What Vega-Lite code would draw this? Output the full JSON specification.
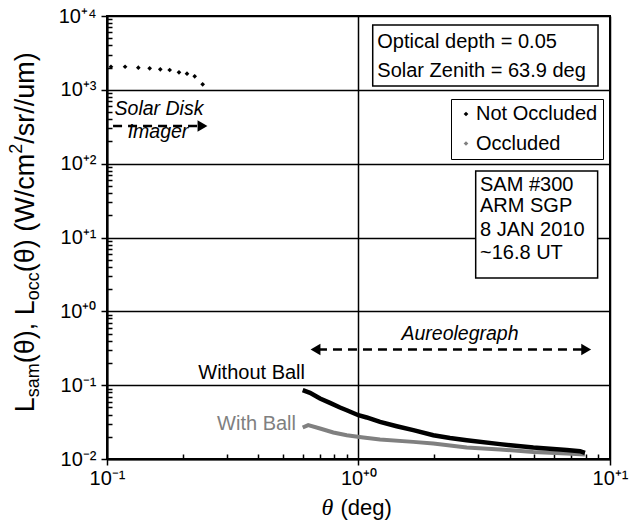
{
  "$schema": "https://vega.github.io/schema/vega-lite/v6.json",
  "width": 503,
  "height": 443,
  "autosize": {"type": "none"},
  "padding": {"left": 107, "top": 16, "right": 23, "bottom": 64},
  "background": "white",
  "config": {
    "font": "Liberation Sans",
    "view": {"stroke": "black", "strokeWidth": 2},
    "text": {"font": "Liberation Sans", "color": "black"}
  },
  "datasets": {
    "disk": [
      {"theta": 0.1037, "L": 2055, "series": "Not Occluded"},
      {"theta": 0.118, "L": 2055, "series": "Not Occluded"},
      {"theta": 0.1332, "L": 1993, "series": "Not Occluded"},
      {"theta": 0.1478, "L": 1955, "series": "Not Occluded"},
      {"theta": 0.1629, "L": 1896, "series": "Not Occluded"},
      {"theta": 0.1775, "L": 1855, "series": "Not Occluded"},
      {"theta": 0.1933, "L": 1727, "series": "Not Occluded"},
      {"theta": 0.208, "L": 1653, "series": "Not Occluded"},
      {"theta": 0.2232, "L": 1524, "series": "Not Occluded"},
      {"theta": 0.2401, "L": 1187, "series": "Not Occluded"}
    ],
    "aureole": [
      {"theta": 0.6, "L": 0.0855, "series": "Not Occluded"},
      {"theta": 0.6415, "L": 0.0787, "series": "Not Occluded"},
      {"theta": 0.703, "L": 0.066, "series": "Not Occluded"},
      {"theta": 0.77, "L": 0.0576, "series": "Not Occluded"},
      {"theta": 0.8441, "L": 0.0498, "series": "Not Occluded"},
      {"theta": 0.898, "L": 0.0458, "series": "Not Occluded"},
      {"theta": 0.999, "L": 0.0392, "series": "Not Occluded"},
      {"theta": 1.078, "L": 0.0365, "series": "Not Occluded"},
      {"theta": 1.218, "L": 0.0318, "series": "Not Occluded"},
      {"theta": 1.419, "L": 0.0278, "series": "Not Occluded"},
      {"theta": 1.652, "L": 0.0246, "series": "Not Occluded"},
      {"theta": 1.984, "L": 0.021, "series": "Not Occluded"},
      {"theta": 2.311, "L": 0.0193, "series": "Not Occluded"},
      {"theta": 2.693, "L": 0.018, "series": "Not Occluded"},
      {"theta": 3.653, "L": 0.0159, "series": "Not Occluded"},
      {"theta": 4.955, "L": 0.0143, "series": "Not Occluded"},
      {"theta": 6.727, "L": 0.0132, "series": "Not Occluded"},
      {"theta": 7.599, "L": 0.01276, "series": "Not Occluded"},
      {"theta": 7.95, "L": 0.0121, "series": "Not Occluded"},
      {"theta": 0.6, "L": 0.0267, "series": "Occluded"},
      {"theta": 0.631, "L": 0.0287, "series": "Occluded"},
      {"theta": 0.703, "L": 0.0259, "series": "Occluded"},
      {"theta": 0.794, "L": 0.02286, "series": "Occluded"},
      {"theta": 0.898, "L": 0.021, "series": "Occluded"},
      {"theta": 1.045, "L": 0.01956, "series": "Occluded"},
      {"theta": 1.218, "L": 0.0184, "series": "Occluded"},
      {"theta": 1.652, "L": 0.01706, "series": "Occluded"},
      {"theta": 1.984, "L": 0.01622, "series": "Occluded"},
      {"theta": 2.693, "L": 0.0143, "series": "Occluded"},
      {"theta": 3.653, "L": 0.01345, "series": "Occluded"},
      {"theta": 4.955, "L": 0.01247, "series": "Occluded"},
      {"theta": 6.727, "L": 0.01188, "series": "Occluded"},
      {"theta": 7.95, "L": 0.01151, "series": "Occluded"}
    ],
    "boxes": [
      {"theta": 1.139, "theta2": 8.961, "L": 7551, "L2": 1126},
      {"theta": 2.924, "theta2": 8.93, "L": 79.4, "L2": 2.818}
    ],
    "notes": [
      {"theta": 1.188, "L": 3684, "text": "Optical depth = 0.05"},
      {"theta": 1.188, "L": 1505, "text": "Solar Zenith = 63.9 deg"},
      {"theta": 3.042, "L": 42.94, "text": "SAM #300"},
      {"theta": 3.042, "L": 21.89, "text": "ARM SGP"},
      {"theta": 3.042, "L": 10.45, "text": "8 JAN 2010"},
      {"theta": 3.042, "L": 5.05, "text": "~16.8 UT"}
    ],
    "instruments": [
      {"theta": 0.1609, "L": 455.5, "text": "Solar Disk"},
      {"theta": 0.1595, "L": 222.3, "text": "Imager"},
      {"theta": 2.533, "L": 0.4073, "text": "Aureolegraph"}
    ],
    "ranges": [
      {"theta": 0.1057, "theta2": 0.2344, "L": 323},
      {"theta": 0.69, "theta2": 7.74, "L": 0.3046}
    ],
    "headsRight": [
      {"theta": 0.2397, "L": 323},
      {"theta": 8.04, "L": 0.3046}
    ],
    "headsLeft": [
      {"theta": 0.6745, "L": 0.3046}
    ],
    "xTitleAnchor": [{"theta": 1, "L": 0.01}],
    "yTitleAnchor": [{"theta": 0.1, "L": 0.043}]
  },
  "encoding": {
    "x": {
      "field": "theta",
      "type": "quantitative",
      "scale": {"type": "log", "domain": [0.1, 10], "nice": false},
      "axis": {
        "title": null,
        "values": [0.1, 0.2, 0.3, 0.4, 0.5, 0.6, 0.7, 0.8, 0.9, 1, 2, 3, 4, 5, 6, 7, 8, 9, 10],
        "labelExpr": "abs(log(datum.value)/LN10 - round(log(datum.value)/LN10)) > 0.001 ? '' : '10' + (datum.value >= 1 ? '⁺' : '⁻') + ['⁰','¹','²','³','⁴'][abs(round(log(datum.value)/LN10))]",
        "grid": true,
        "gridColor": "black",
        "gridWidth": 1.5,
        "gridOpacity": {"condition": {"test": "abs(log(datum.value)/LN10 - round(log(datum.value)/LN10)) < 0.001", "value": 1}, "value": 0},
        "tickColor": "black",
        "tickWidth": 1.5,
        "tickSize": {"condition": {"test": "abs(log(datum.value)/LN10 - round(log(datum.value)/LN10)) < 0.001", "value": 6}, "value": -5},
        "domainColor": "black",
        "domainWidth": 2,
        "labelFont": "Liberation Sans",
        "labelFontSize": 20,
        "labelColor": "black",
        "labelPadding": 3,
        "labelFlush": false,
        "labelOverlap": false
      }
    },
    "y": {
      "field": "L",
      "type": "quantitative",
      "scale": {"type": "log", "domain": [0.01, 10000], "nice": false},
      "axis": {
        "title": null,
        "values": [0.01, 0.02, 0.03, 0.04, 0.05, 0.06, 0.07, 0.08, 0.09, 0.1, 0.2, 0.3, 0.4, 0.5, 0.6, 0.7, 0.8, 0.9, 1, 2, 3, 4, 5, 6, 7, 8, 9, 10, 20, 30, 40, 50, 60, 70, 80, 90, 100, 200, 300, 400, 500, 600, 700, 800, 900, 1000, 2000, 3000, 4000, 5000, 6000, 7000, 8000, 9000, 10000],
        "labelExpr": "abs(log(datum.value)/LN10 - round(log(datum.value)/LN10)) > 0.001 ? '' : '10' + (datum.value >= 1 ? '⁺' : '⁻') + ['⁰','¹','²','³','⁴'][abs(round(log(datum.value)/LN10))]",
        "grid": true,
        "gridColor": "black",
        "gridWidth": 1.5,
        "gridOpacity": {"condition": {"test": "abs(log(datum.value)/LN10 - round(log(datum.value)/LN10)) < 0.001", "value": 1}, "value": 0},
        "tickColor": "black",
        "tickWidth": 1.5,
        "tickSize": {"condition": {"test": "abs(log(datum.value)/LN10 - round(log(datum.value)/LN10)) < 0.001", "value": 6}, "value": -5},
        "domainColor": "black",
        "domainWidth": 2,
        "labelFont": "Liberation Sans",
        "labelFontSize": 20,
        "labelColor": "black",
        "labelPadding": 5,
        "labelFlush": false,
        "labelOverlap": false
      }
    }
  },
  "layer": [
    {
      "data": {"name": "boxes"},
      "mark": {"type": "rect", "fill": "white", "stroke": "black", "strokeWidth": 1.5},
      "encoding": {"x2": {"field": "theta2"}, "y2": {"field": "L2"}}
    },
    {
      "data": {"name": "aureole"},
      "transform": [{"filter": "datum.series === 'Occluded'"}],
      "mark": {"type": "line", "color": "#808080", "strokeWidth": 4}
    },
    {
      "data": {"name": "aureole"},
      "transform": [{"filter": "datum.series === 'Not Occluded'"}],
      "mark": {"type": "line", "color": "black", "strokeWidth": 4.5}
    },
    {
      "data": {"name": "disk"},
      "mark": {"type": "point", "shape": "diamond", "filled": true, "size": 22, "opacity": 1},
      "encoding": {
        "color": {
          "field": "series",
          "type": "nominal",
          "scale": {"domain": ["Not Occluded", "Occluded"], "range": ["black", "#808080"]},
          "legend": {
            "title": null,
            "orient": "none",
            "legendX": 344,
            "legendY": 83,
            "symbolType": "diamond",
            "symbolSize": 22,
            "symbolStrokeWidth": 0,
            "symbolOffset": 0,
            "labelOffset": 0,
            "labelFont": "Liberation Sans",
            "labelFontSize": 20,
            "labelColor": "black",
            "padding": 5,
            "rowPadding": 9.5,
            "strokeColor": "black",
            "fillColor": "white"
          }
        }
      }
    },
    {
      "data": {"name": "ranges"},
      "mark": {"type": "rule", "color": "black", "strokeWidth": 2.5, "strokeDash": [9, 6]},
      "encoding": {"x2": {"field": "theta2"}}
    },
    {
      "data": {"name": "headsRight"},
      "mark": {"type": "point", "shape": "triangle-right", "filled": true, "color": "black", "size": 130, "opacity": 1}
    },
    {
      "data": {"name": "headsLeft"},
      "mark": {"type": "point", "shape": "triangle-left", "filled": true, "color": "black", "size": 130, "opacity": 1}
    },
    {
      "data": {"name": "notes"},
      "mark": {"type": "text", "align": "left", "baseline": "alphabetic", "fontSize": 20},
      "encoding": {"text": {"field": "text"}}
    },
    {
      "data": {"name": "instruments"},
      "mark": {"type": "text", "align": "center", "baseline": "alphabetic", "fontSize": 19.5, "fontStyle": "italic"},
      "encoding": {"text": {"field": "text"}}
    },
    {
      "data": {"values": [{"theta": 0.6128, "L": 0.1195, "text": "Without Ball"}]},
      "mark": {"type": "text", "align": "right", "baseline": "alphabetic", "fontSize": 20, "color": "black"},
      "encoding": {"text": {"field": "text"}}
    },
    {
      "data": {"values": [{"theta": 0.5643, "L": 0.02457, "text": "With Ball"}]},
      "mark": {"type": "text", "align": "right", "baseline": "alphabetic", "fontSize": 20, "color": "#808080"},
      "encoding": {"text": {"field": "text"}}
    },
    {
      "data": {"name": "xTitleAnchor"},
      "mark": {"type": "text", "text": "θ", "font": "Liberation Serif", "fontStyle": "italic", "fontSize": 24, "align": "left", "baseline": "alphabetic", "dx": -37, "dy": 56}
    },
    {
      "data": {"name": "xTitleAnchor"},
      "mark": {"type": "text", "text": "(deg)", "fontSize": 22, "align": "left", "baseline": "alphabetic", "dx": -18, "dy": 56}
    },
    {
      "data": {"name": "yTitleAnchor"},
      "mark": {"type": "text", "text": "L", "angle": 270, "fontSize": 27, "align": "left", "baseline": "alphabetic", "dx": 0, "dy": -73}
    },
    {
      "data": {"name": "yTitleAnchor"},
      "mark": {"type": "text", "text": "sam", "angle": 270, "fontSize": 18, "align": "left", "baseline": "alphabetic", "dx": 15, "dy": -68}
    },
    {
      "data": {"name": "yTitleAnchor"},
      "mark": {"type": "text", "text": "(θ), L", "angle": 270, "fontSize": 27, "align": "left", "baseline": "alphabetic", "dx": 49, "dy": -73}
    },
    {
      "data": {"name": "yTitleAnchor"},
      "mark": {"type": "text", "text": "occ", "angle": 270, "fontSize": 18, "align": "left", "baseline": "alphabetic", "dx": 112, "dy": -68}
    },
    {
      "data": {"name": "yTitleAnchor"},
      "mark": {"type": "text", "text": "(θ) (W/cm", "angle": 270, "fontSize": 27, "align": "left", "baseline": "alphabetic", "dx": 140, "dy": -73}
    },
    {
      "data": {"name": "yTitleAnchor"},
      "mark": {"type": "text", "text": "2", "angle": 270, "fontSize": 18, "align": "left", "baseline": "alphabetic", "dx": 258.5, "dy": -85}
    },
    {
      "data": {"name": "yTitleAnchor"},
      "mark": {"type": "text", "text": "/sr//um)", "angle": 270, "fontSize": 27, "align": "left", "baseline": "alphabetic", "dx": 268.5, "dy": -73}
    }
  ]
}
